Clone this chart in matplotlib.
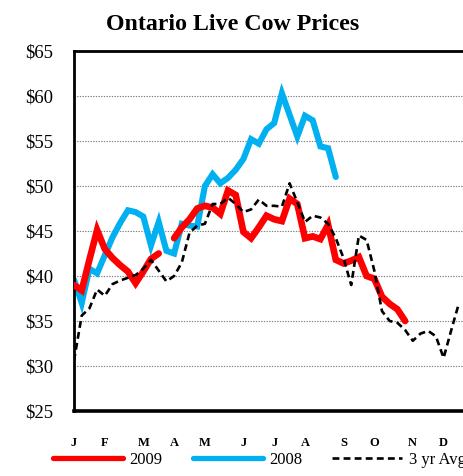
import numpy as np
import matplotlib
matplotlib.use("Agg")
import matplotlib.pyplot as plt

# weekly prices, $/cwt
months = ['J', 'F', 'M', 'A', 'M', 'J', 'J', 'A', 'S', 'O', 'N', 'D']
month_weeks = [0, 4, 9, 13, 17, 22, 26, 30, 35, 39, 44, 48]

y2009 = [39.0, 38.4, 41.8, 45.1, 43.0, 42.0, 41.2, 40.5, 39.2, 40.5, 41.9, 42.5,
         np.nan, 44.2, 45.4, 46.3, 47.5, 47.8, 47.6, 46.9, 49.5, 49.0, 44.9, 44.2,
         45.4, 46.7, 46.3, 46.1, 48.6, 48.0, 44.2, 44.4, 44.1, 45.7, 41.8, 41.4,
         41.7, 42.1, 40.0, 39.7, 37.7, 36.9, 36.3, 35.0]

y2008 = [39.6, 37.0, 40.8, 40.3, 42.3, 44.3, 45.9, 47.3, 47.1, 46.6, 43.4, 46.0,
         42.8, 42.5, 45.8, 45.6, 45.5, 50.0, 51.3, 50.3, 50.9, 51.8, 53.0, 55.2,
         54.7, 56.3, 57.0, 60.3, 57.9, 55.5, 57.8, 57.3, 54.4, 54.2, 51.0]

avg3 = [30.6, 35.6, 36.4, 38.5, 37.8, 39.1, 39.5, 39.8, 40.1, 40.8, 41.8, 40.6,
        39.4, 40.0, 41.5, 44.8, 45.6, 45.8, 48.0, 48.0, 48.7, 48.0, 47.1, 47.4,
        48.5, 47.8, 47.8, 47.7, 50.3, 48.2, 46.0, 46.7, 46.5, 45.8, 44.2, 42.0,
        39.0, 44.5, 44.0, 40.6, 36.1, 35.0, 34.8, 34.0, 32.8, 33.6, 33.9, 33.3,
        30.9, 34.0, 37.0]

serif = 'Liberation Serif'

fig = plt.figure(figsize=(4.64, 4.76), dpi=100)
ax = fig.add_axes([74 / 464, 1 - 411 / 476, 1 - 74 / 464, (411 - 51) / 476])

ax.plot(np.arange(len(y2009)), y2009, color='#FF0000', lw=4.8,
        solid_capstyle='round', solid_joinstyle='miter', label='2009', zorder=3)
ax.plot(np.arange(len(y2008)), y2008, color='#00B0F0', lw=4.4,
        solid_capstyle='round', solid_joinstyle='miter', label='2008', zorder=2)
ax.plot(np.arange(len(avg3)), avg3, color='black', lw=1.9,
        dashes=(2.6, 1.6), label='3 yr Avg', zorder=4)

ax.set_xlim(0, 50.65)
ax.set_ylim(25, 65)
ax.set_yticks(range(25, 70, 5))
ax.set_yticklabels(['$%d' % v for v in range(25, 70, 5)],
                   fontfamily=serif, fontsize=13.5)
ax.set_xticks(month_weeks)
ax.set_xticklabels(months, fontfamily=serif, fontsize=9, fontweight='bold')
ax.tick_params(axis='y', length=0, pad=15)
ax.tick_params(axis='x', length=0, pad=19)

for v in range(30, 65, 5):
    ax.axhline(v, color='#808080', lw=0.8, ls=(0, (1.2, 1.2)), zorder=1)

ax.spines['right'].set_visible(False)
for s in ['left', 'top']:
    ax.spines[s].set_linewidth(2.0)
ax.spines['bottom'].set_linewidth(2.6)

fig.text(233 / 464, 1 - 24 / 476, 'Ontario Live Cow Prices', ha='center',
         va='center', fontfamily=serif, fontweight='bold', fontsize=17.2)

leg = fig.legend(loc='center left', bbox_to_anchor=(53 / 464, 1 - 460 / 476),
                 ncol=3, frameon=False, handlelength=4.2, handletextpad=0.4,
                 columnspacing=1.8, borderpad=0, borderaxespad=0,
                 prop={'family': serif, 'size': 12})
for h in leg.get_lines():
    if h.get_label() != '3 yr Avg':
        h.set_linewidth(3.8)

fig.savefig('out.png', dpi=100)
